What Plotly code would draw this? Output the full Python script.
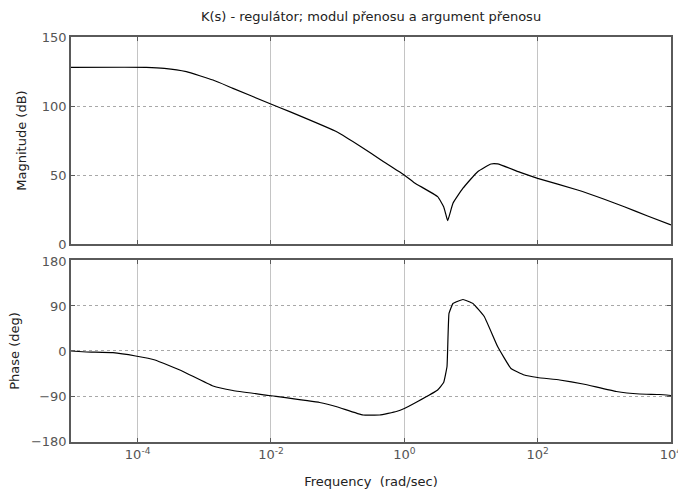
import plotly.graph_objects as go
from plotly.subplots import make_subplots

# Magnitude data
w_mag = [1e-5, 1.35e-4, 2.51e-4, 5.37e-4, 1.35e-3, 2.69e-3, 9.33e-3, 1.91e-2, 0.1, 0.224,
         0.447, 1.0, 1.41, 3.16, 3.89, 4.17, 4.47, 5.37, 7.59, 12.6, 20.0, 25.1, 56.2,
         100, 398, 1000, 1995, 4467, 1e4]
mag_db = [128, 128, 127.3, 124.9, 118.8, 112.8, 102, 95.9, 81, 70.5,
          60.9, 50, 44.4, 34.3, 27, 22, 16.9, 29.5, 40.4, 52.4, 58, 58, 51.7,
          47.6, 39.1, 32.4, 27, 20.3, 13.8]

# Phase data
w_ph = [1e-5, 1.70e-5, 4.27e-5, 9.33e-5, 1.82e-4, 4.79e-4, 1.35e-3, 2.69e-3, 9.33e-3, 5.37e-2,
        0.1, 0.240, 0.427, 0.759, 1.0, 1.585, 3.16, 3.89, 4.37, 4.68, 5.37, 7.59, 10.7,
        15.8, 25.1, 39.8, 63.1, 100, 214, 479, 1514, 3388, 6761, 1e4]
phase_deg = [0, -2, -3.4, -10, -18, -41, -70, -79, -89, -103,
             -112, -128, -128, -121, -115, -101, -78, -63, -31, 75, 95, 103, 95,
             69, 9, -35, -48, -53, -58, -66, -81, -86, -87, -89]

x_tickvals = [1e-4, 1e-2, 1e0, 1e2, 1e4]
x_ticktext = ["10<sup>-4</sup>", "10<sup>-2</sup>", "10<sup>0</sup>", "10<sup>2</sup>", "10<sup>4</sup>"]
mag_ticks = [0, 50, 100, 150]
ph_ticks = [-180, -90, 0, 90, 180]

fig = make_subplots(rows=2, cols=1, shared_xaxes=False)
fig.add_trace(go.Scatter(x=w_mag, y=mag_db, mode="lines",
                         line=dict(color="black", width=1.2, shape="spline", smoothing=0.4)), row=1, col=1)
fig.add_trace(go.Scatter(x=w_ph, y=phase_deg, mode="lines",
                         line=dict(color="black", width=1.2, shape="spline", smoothing=0.3)), row=2, col=1)

FONT = "DejaVu Sans, Arial, sans-serif"
TXT = "#222222"
axis_common = dict(showline=True, linecolor="#5a5a5a", linewidth=1.5, mirror="ticks",
                   ticks="inside", ticklen=4, tickcolor="#5a5a5a", automargin=False,
                   tickfont=dict(family=FONT, size=13, color="#555555"), zeroline=False)

fig.update_xaxes(type="log", range=[-5, 4.0005], tickvals=x_tickvals, ticktext=x_ticktext,
                 ticklabeloverflow="allow",
                 showgrid=True, gridcolor="#c4c4c4", gridwidth=1, **axis_common)
fig.update_xaxes(showticklabels=False, row=1, col=1)
fig.update_xaxes(title=dict(text="Frequency  (rad/sec)", font=dict(family=FONT, size=13, color=TXT),
                            standoff=16), row=2, col=1)
fig.update_yaxes(showgrid=True, gridcolor="#a8a8a8", griddash="dot", gridwidth=1, **axis_common)
fig.update_yaxes(range=[0, 150], tickvals=mag_ticks,
                 title=dict(text="Magnitude (dB)", font=dict(family=FONT, size=13, color=TXT), standoff=12),
                 row=1, col=1)
fig.update_yaxes(range=[-182, 182], tickvals=ph_ticks,
                 title=dict(text="Phase (deg)", font=dict(family=FONT, size=13, color=TXT), standoff=8),
                 row=2, col=1)

fig.update_layout(
    width=678, height=492,
    margin=dict(l=71, r=7, t=37, b=50),
    paper_bgcolor="white", plot_bgcolor="white",
    showlegend=False,
    title=dict(text="K(s) - regulátor; modul přenosu a argument přenosu",
               font=dict(family=FONT, size=13, color=TXT),
               x=(71 + 671) / 2 / 678, xanchor="center", y=1 - 16 / 492, yanchor="middle"),
    xaxis=dict(domain=[0, 1]), xaxis2=dict(domain=[0, 1]),
    yaxis=dict(domain=[0.4889, 1]), yaxis2=dict(domain=[0, 0.4494]),
)

fig.write_html("out.html")
